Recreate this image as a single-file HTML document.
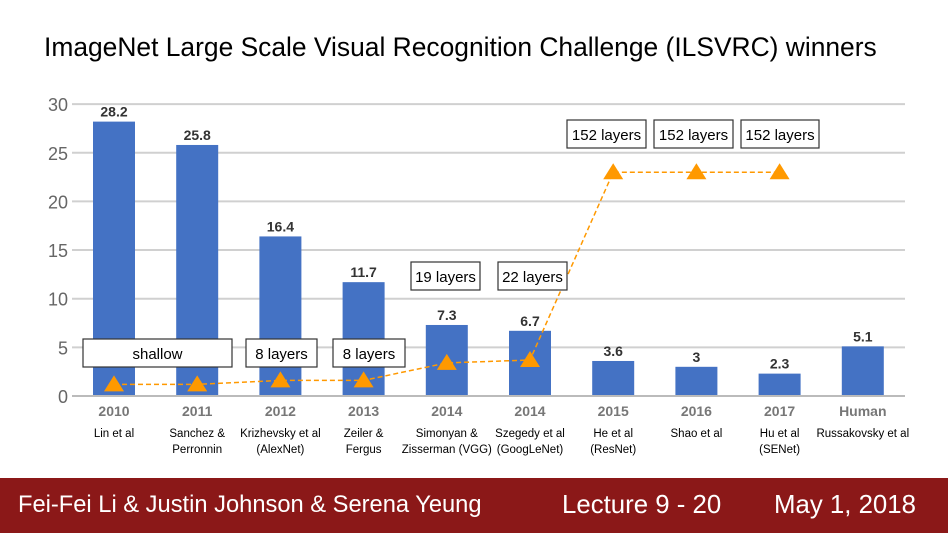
<!DOCTYPE html>
<html><head><meta charset="utf-8"><style>
body{margin:0;width:948px;height:533px;background:#fff;overflow:hidden;font-family:"Liberation Sans",sans-serif}
</style></head><body>
<svg width="948" height="533" style="position:absolute;left:0;top:0">
<text x="44" y="56" font-size="26.4" fill="#000">ImageNet Large Scale Visual Recognition Challenge (ILSVRC) winners</text>
<g id="grid"></g><g id="bars"></g><g id="line"></g><g id="labels"></g>
<rect x="0" y="478" width="948" height="55" fill="#8b1818"/>
<text x="18" y="512" font-size="23.7" fill="#fff">Fei-Fei Li &amp; Justin Johnson &amp; Serena Yeung</text>
<text x="562" y="513" font-size="25.8" fill="#fff">Lecture 9 - 20</text>
<text x="774" y="513" font-size="25.8" fill="#fff">May 1, 2018</text>
</svg>
<script>
const years=["2010","2011","2012","2013","2014","2014","2015","2016","2017","Human"];
const authors=[["Lin et al"],["Sanchez &","Perronnin"],["Krizhevsky et al","(AlexNet)"],["Zeiler &","Fergus"],["Simonyan &","Zisserman (VGG)"],["Szegedy et al","(GoogLeNet)"],["He et al","(ResNet)"],["Shao et al"],["Hu et al","(SENet)"],["Russakovsky et al"]];
const errors=[28.2,25.8,16.4,11.7,7.3,6.7,3.6,3,2.3,5.1];
const errorLabels=["28.2","25.8","16.4","11.7","7.3","6.7","3.6","3","2.3","5.1"];
const depth=[1.2,1.2,1.6,1.6,3.4,3.7,23,23,23];
const yTicks=[0,5,10,15,20,25,30];
const NS="http://www.w3.org/2000/svg";
const X=i=>114+i*83.2, Y=v=>396-v*9.73;
function mk(tag,attrs,parent,txt){const e=document.createElementNS(NS,tag);for(const k in attrs)e.setAttribute(k,attrs[k]);if(txt!=null)e.textContent=txt;document.getElementById(parent).appendChild(e);return e;}
yTicks.forEach(t=>{
 const l=mk('line',{x1:72,x2:905,y1:Y(t),y2:Y(t),stroke:t==0?'#bbb':'#d0d0d0','stroke-width':2},'grid');
 
 
 const tx=mk('text',{x:68,y:Y(t)+7,'text-anchor':'end','font-size':18,fill:'#666'},'grid',t);
 
 
});
errors.forEach((v,i)=>{
 const r=mk('rect',{x:X(i)-21,y:Y(v),width:42,height:Y(0)-Y(v)-1,fill:'#4472c4'},'bars');
 
 
 const t=mk('text',{x:X(i),y:Y(v)-5,'text-anchor':'middle','font-size':14,'font-weight':'bold',fill:'#333'},'bars',errorLabels[i]);
 
 
 const yl=mk('text',{x:X(i),y:416,'text-anchor':'middle','font-size':14,'font-weight':'bold',fill:'#777'},'bars',years[i]);
 
 
 authors[i].forEach((a,j)=>{
  const al=mk('text',{x:X(i),y:437+j*16,'text-anchor':'middle','font-size':11.5,fill:'#000'},'bars',a);
  
  
 });
});
const pts=depth.map((d,i)=>X(i)+','+Y(d)).join(' ');
const pl=mk('polyline',{points:pts,fill:'none',stroke:'#f90','stroke-width':1.5,'stroke-dasharray':'5,3'},'line');


depth.forEach((d,i)=>{
 const x=X(i),y=Y(d);
 const tr=mk('polygon',{points:`${x},${y-9} ${x-10},${y+7} ${x+10},${y+7}`,fill:'#f90'},'line');
 
 
});
const boxes=[["shallow",83,339,149],["8 layers",246,339,71],["8 layers",333,339,72],["19 layers",411,262,69],["22 layers",498,262,69],["152 layers",567,120,79],["152 layers",654,120,79],["152 layers",741,120,78]];
boxes.forEach(b=>{
 const r=mk('rect',{x:b[1],y:b[2],width:b[3],height:28,fill:'#fff',stroke:'#333','stroke-width':1.2},'labels');
 
 
 const t=mk('text',{x:b[1]+b[3]/2,y:b[2]+20,'text-anchor':'middle','font-size':15,fill:'#000'},'labels',b[0]);
 
 
});
</script>
</body></html>
